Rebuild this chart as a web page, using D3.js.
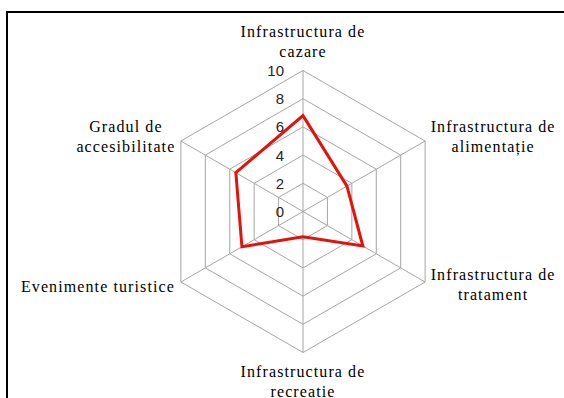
<!DOCTYPE html>
<html>
<head>
<meta charset="utf-8">
<script src="https://cdn.jsdelivr.net/npm/d3@7"></script>
<style>
  body { margin: 0; background: #fff; }
  .axisLabel { font-family: "Liberation Serif", serif; font-size: 16px; fill: #000; letter-spacing: 1.1px; }
  .tickLabel { font-family: "Liberation Sans", sans-serif; font-size: 15px; fill: #262626; }
</style>
</head>
<body>
<script>
// categories (clockwise from the top)
var categories = [
  ["Infrastructura de", "cazare"],
  ["Infrastructura de", "alimentație"],
  ["Infrastructura de", "tratament"],
  ["Infrastructura de", "recreatie"],
  ["Evenimente turistice"],
  ["Gradul de", "accesibilitate"]
];
var values = [6.8, 3.6, 4.9, 1.8, 5.0, 5.5];
var ticks = [0, 2, 4, 6, 8, 10];

var svgWidth = 564;
var svgHeight = 398;
var cx = 303;
var cy = 211.5;
var radius = 141;

var svg = d3.select("body")
  .append("svg")
  .attr("width", svgWidth)
  .attr("height", svgHeight);

// frame (top and left edges only)
svg.append("path")
  .attr("d", "M7,398 V12 H564")
  .attr("fill", "none")
  .attr("stroke", "#000")
  .attr("stroke-width", 2);

var r = d3.scaleLinear().domain([0, 10]).range([0, radius]);
var angle = d3.scaleLinear().domain([0, categories.length]).range([0, 2 * Math.PI]);

function point(i, v) {
  var a = angle(i);
  return [cx + r(v) * Math.sin(a), cy - r(v) * Math.cos(a)];
}

var chart = svg.append("g");

// hexagon rings
chart.selectAll(".ring")
  .data(ticks.filter(t => t > 0))
  .enter()
  .append("polygon")
  .attr("class", "ring")
  .attr("points", t => categories.map((c, i) => point(i, t).join(",")).join(" "))
  .attr("fill", "none")
  .attr("stroke", "#a6a6a6")
  .attr("stroke-width", 1);

// spokes
chart.selectAll(".spoke")
  .data(categories)
  .enter()
  .append("line")
  .attr("x1", cx)
  .attr("y1", cy)
  .attr("x2", (d, i) => point(i, 10)[0])
  .attr("y2", (d, i) => point(i, 10)[1])
  .attr("stroke", "#a6a6a6")
  .attr("stroke-width", 1);

// data line
var line = d3.line().curve(d3.curveLinearClosed);
chart.append("path")
  .attr("d", line(values.map((v, i) => point(i, v))))
  .attr("fill", "none")
  .attr("stroke", "#e3120b")
  .attr("stroke-width", 3)
  .attr("stroke-linejoin", "miter");

// tick labels
chart.selectAll(".tickLabel")
  .data(ticks)
  .enter()
  .append("text")
  .attr("class", "tickLabel")
  .attr("x", cx - 19)
  .attr("y", d => cy - r(d))
  .attr("dy", "0.36em")
  .attr("text-anchor", "end")
  .text(d => d);

// category labels: offsets from the outer vertex
var labelOffsets = [
  { dx: 0, dy: -34, anchor: "middle" },
  { dx: 68, dy: -9, anchor: "middle" },
  { dx: 68, dy: -2, anchor: "middle" },
  { dx: 0, dy: 24, anchor: "middle" },
  { dx: -6, dy: 10, anchor: "end" },
  { dx: -55, dy: -9, anchor: "middle" }
];

categories.forEach(function(lines, i) {
  var p = point(i, 10);
  var o = labelOffsets[i];
  var t = chart.append("text")
    .attr("class", "axisLabel")
    .attr("text-anchor", o.anchor)
    .attr("x", p[0] + o.dx)
    .attr("y", p[1] + o.dy);
  lines.forEach(function(s, j) {
    t.append("tspan")
      .attr("x", p[0] + o.dx)
      .attr("dy", j === 0 ? 0 : 20)
      .text(s);
  });
});
</script>
</body>
</html>
